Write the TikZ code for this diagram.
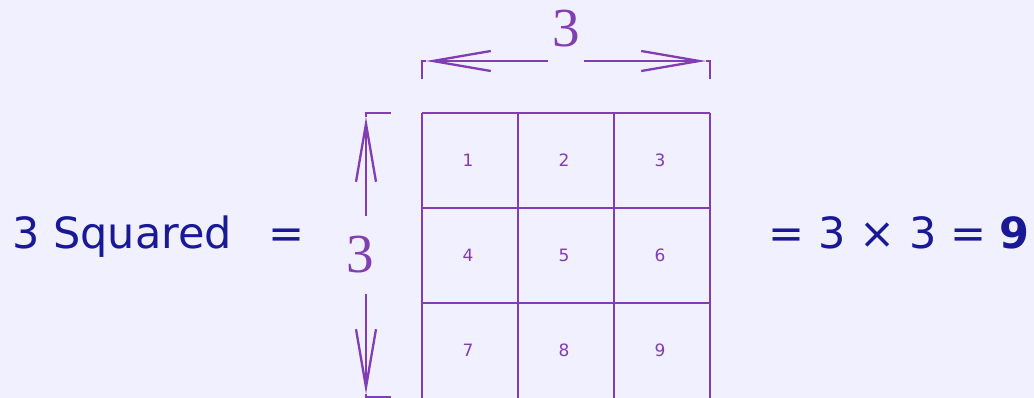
\documentclass[tikz,border=0pt]{standalone}
\usepackage{fontspec}
\setmainfont{DejaVu Sans}
\newfontfamily\dimfont{Liberation Serif}
\usetikzlibrary{arrows.meta}
\definecolor{bgcol}{RGB}{240,240,255}
\definecolor{gridcol}{RGB}{130,60,180}
\definecolor{textcol}{RGB}{25,25,150}

\begin{document}
\begin{tikzpicture}[x=1pt, y=-1pt,
  gridline/.style={gridcol, line width=2.3pt},
  dimline/.style={gridcol, line width=2.3pt, -{Straight Barb[length=58pt,width=20pt]}},
  bigtext/.style={textcol, font=\fontsize{43}{50}\selectfont, inner sep=0pt},
  cellnum/.style={gridcol, font=\fontsize{17}{20}\selectfont},
  dimlabel/.style={gridcol, font=\dimfont\fontsize{55}{60}\selectfont, inner xsep=4pt, inner ysep=20pt}]
\fill[bgcol] (0,0) rectangle (1034,398);
\useasboundingbox (0,0) rectangle (1034,398);
\clip (0,0) rectangle (1034,398);
% grid of 3 x 3 cells
\foreach \i in {0,...,3}
  \draw[gridline] (422+96*\i,113) -- (422+96*\i,420);
\foreach \j in {0,1,2}
  \draw[gridline] (422,113+95*\j) -- (710,113+95*\j);
\foreach \r in {0,1,2}
  \foreach \c in {1,2,3} {
    \pgfmathtruncatemacro\n{3*\r+\c}
    \node[cellnum] (cell\n) at (372+96*\c,160+95*\r) {\n};
  }
% width
\node[dimlabel, inner ysep=4pt] (toplab) at (566,29) {3};
\coordinate (tl) at (426,61);
\coordinate (tr) at (706,61);
\draw[gridline] (422,79) |- (tl);
\draw[gridline] (710,79) |- (tr);
\draw[dimline] (toplab.west |- tl) -- (tl);
\draw[dimline] (toplab.east |- tr) -- (tr);
% height
\node[dimlabel] (sidelab) at (360,255) {3};
\coordinate (vt) at (366,117);
\coordinate (vb) at (366,394);
\draw[gridline] (391,113) -| (vt);
\draw[gridline] (391,397) -| (vb);
\draw[dimline] (sidelab.north -| vt) -- (vt);
\draw[dimline] (sidelab.south -| vb) -- (vb);
% texts
\node[bigtext, anchor=base west] (sqword) at (12,249) {3 Squared};
\node[bigtext, anchor=base west] (eqsign) at (268,249) {=};
\node[bigtext, anchor=base east] (result) at (1030,249) {= 3 × 3 = \textbf{9}};
\end{tikzpicture}
\end{document}
